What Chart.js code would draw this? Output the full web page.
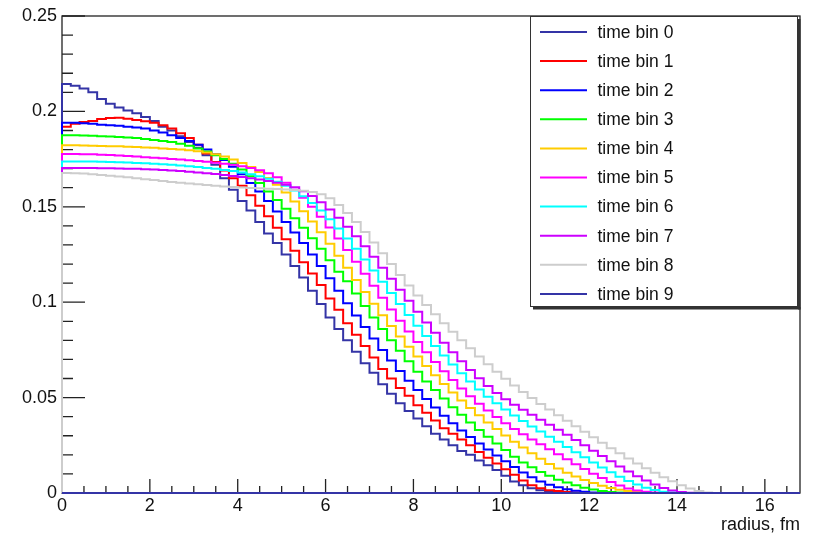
<!DOCTYPE html>
<html>
<head>
<meta charset="utf-8">
<script src="https://cdn.jsdelivr.net/npm/chart.js@4/dist/chart.umd.min.js"></script>
<style>
html,body{margin:0;padding:0;background:#fff;}
#wrap{width:817px;height:534px;position:relative;}
</style>
</head>
<body>
<div id="wrap"><canvas id="c" width="817" height="534"></canvas></div>
<script>
// ---- data ----
const seriesNames = ["time bin 0","time bin 1","time bin 2","time bin 3","time bin 4","time bin 5","time bin 6","time bin 7","time bin 8","time bin 9"];
const seriesColors = ["#3434a6","#ff0000","#0000ff","#00ff00","#ffcc00","#ff00ff","#00ffff","#cc00ff","#cdcdcd","#3434a6"];
// lower edges of the 0.2 fm radius bins
const binLow = [0,0.2,0.4,0.6,0.8,1,1.2,1.4,1.6,1.8,2,2.2,2.4,2.6,2.8,3,3.2,3.4,3.6,3.8,4,4.2,4.4,4.6,4.8,5,5.2,5.4,5.6,5.8,6,6.2,6.4,6.6,6.8,7,7.2,7.4,7.6,7.8,8,8.2,8.4,8.6,8.8,9,9.2,9.4,9.6,9.8,10,10.2,10.4,10.6,10.8,11,11.2,11.4,11.6,11.8,12,12.2,12.4,12.6,12.8,13,13.2,13.4,13.6,13.8,14,14.2,14.4,14.6,14.8,15,15.2,15.4,15.6,15.8,16,16.2,16.4,16.6];
const radiusMax = 16.8;
const bin0 = [0.2144,0.2135,0.212,0.210,0.2065,0.204,0.202,0.2005,0.199,0.197,
0.195,0.192,0.190,0.187,0.184,0.181,0.177,0.172,0.165,0.159,
0.153,0.148,0.142,0.136,0.131,0.125,0.119,0.113,0.106,0.099,
0.092,0.086,0.080,0.074,0.068,0.063,0.057,0.052,0.047,0.043,
0.039,0.035,0.031,0.028,0.025,0.022,0.020,0.017,0.0145,0.012,
0.009,0.006,0.004,0.0025,0.0015,0.001,0.0005,0.0002,
0,0,0,0,0,0,0,0,0,0,0,0,0,0,0,0,0,0,0,0,0,0,0,0,0,0];
const bin1 = [0.192,0.1935,0.1945,0.195,0.196,0.1965,0.1967,0.1962,0.1955,0.1948,
0.194,0.1928,0.191,0.1885,0.186,0.1825,0.178,0.1735,0.169,0.165,
0.161,0.156,0.1505,0.145,0.139,0.133,0.127,0.121,0.115,0.109,
0.102,0.096,0.089,0.083,0.077,0.071,0.065,0.060,0.055,0.051,
0.046,0.042,0.038,0.034,0.031,0.028,0.025,0.0215,0.0185,0.0155,
0.0125,0.0095,0.0065,0.004,0.0025,0.0015,0.001,0.0005,0.0002,
0,0,0,0,0,0,0,0,0,0,0,0,0,0,0,0,0,0,0,0,0,0,0,0,0];
const bin2 = [0.194,0.194,0.1938,0.1935,0.193,0.1928,0.1925,0.192,0.1915,0.191,
0.190,0.189,0.1875,0.186,0.1845,0.1825,0.180,0.1775,0.1745,0.171,
0.167,0.1625,0.158,0.153,0.1475,0.142,0.1365,0.131,0.125,0.119,
0.1125,0.106,0.0995,0.093,0.087,0.081,0.075,0.0695,0.064,0.0588,
0.054,0.0493,0.0448,0.0405,0.0365,0.0328,0.0293,0.026,0.0228,0.0197,
0.0166,0.0136,0.0108,0.0083,0.006,0.0043,0.003,0.002,0.0012,0.0007,
0.0003,
0,0,0,0,0,0,0,0,0,0,0,0,0,0,0,0,0,0,0,0,0,0,0];
const bin3 = [0.1875,0.1875,0.1874,0.1872,0.187,0.1868,0.1866,0.1863,0.186,0.1856,
0.185,0.1845,0.184,0.183,0.182,0.1805,0.179,0.177,0.175,0.1725,
0.1695,0.166,0.1625,0.158,0.1535,0.149,0.144,0.139,0.1335,0.128,
0.122,0.116,0.111,0.1045,0.098,0.092,0.086,0.080,0.0745,0.069,
0.0635,0.0585,0.054,0.0495,0.045,0.041,0.037,0.033,0.0295,0.026,
0.0225,0.019,0.016,0.0135,0.011,0.009,0.007,0.0055,0.004,0.0028,
0.0018,0.001,0.0005,0.0002,
0,0,0,0,0,0,0,0,0,0,0,0,0,0,0,0,0,0,0,0];
const bin4 = [0.1822,0.1822,0.1821,0.182,0.1819,0.1818,0.1817,0.1815,0.1813,0.1811,
0.1809,0.1806,0.1803,0.18,0.1796,0.1791,0.1784,0.1775,0.1763,0.1748,
0.173,0.1708,0.1682,0.1651,0.1615,0.1575,0.1528,0.1477,0.1423,0.1366,
0.1306,0.1244,0.1181,0.1117,0.1054,0.0992,0.0932,0.0875,0.082,0.0767,
0.0715,0.0665,0.0617,0.0571,0.0527,0.0485,0.0445,0.0407,0.037,0.0335,
0.0301,0.0269,0.0238,0.0208,0.0179,0.0152,0.0128,0.0106,0.0086,0.0068,
0.0052,0.0038,0.0026,0.0017,0.001,0.0005,0.0002,
0,0,0,0,0,0,0,0,0,0,0,0,0,0,0,0,0];
const bin5 = [0.1777,0.1777,0.1776,0.1775,0.1773,0.1771,0.1769,0.1766,0.1763,0.176,
0.1757,0.1754,0.1751,0.1748,0.1744,0.174,0.1736,0.1731,0.1726,0.172,
0.1713,0.1703,0.1692,0.1676,0.1655,0.1626,0.159,0.1548,0.15,0.1448,
0.1392,0.1334,0.1274,0.1212,0.1149,0.1086,0.1023,0.0962,0.0903,0.0846,
0.0791,0.0738,0.0687,0.0638,0.0592,0.0548,0.0507,0.0468,0.0432,0.0398,
0.0366,0.0336,0.0308,0.0281,0.0255,0.0229,0.0203,0.0177,0.0151,0.0126,
0.0101,0.0078,0.0057,0.0039,0.0024,0.0013,0.0006,0.0002,
0,0,0,0,0,0,0,0,0,0,0,0,0,0,0,0];
const bin6 = [0.1738,0.1738,0.1737,0.1737,0.1736,0.1735,0.1734,0.1732,0.173,0.1728,
0.1726,0.1723,0.172,0.1717,0.1713,0.1709,0.1704,0.1699,0.1693,0.1687,
0.168,0.1671,0.166,0.1647,0.1631,0.161,0.1585,0.1555,0.152,0.148,
0.1435,0.1386,0.1334,0.128,0.1224,0.1166,0.1107,0.1048,0.099,0.0933,
0.0877,0.0823,0.0771,0.0721,0.0673,0.0627,0.0584,0.0543,0.0505,0.047,
0.0437,0.0406,0.0377,0.0349,0.0322,0.0295,0.0268,0.0241,0.0214,0.0187,
0.016,0.0134,0.0109,0.0085,0.0063,0.0044,0.0028,0.0016,0.0007,0.0002,
0,0,0,0,0,0,0,0,0,0,0,0,0,0];
const bin7 = [0.1703,0.1703,0.1703,0.1703,0.1702,0.1702,0.1701,0.17,0.1699,0.1697,
0.1695,0.1693,0.169,0.1687,0.1684,0.168,0.1676,0.1672,0.1667,0.1662,
0.1656,0.165,0.1643,0.1635,0.1626,0.1616,0.1602,0.1582,0.1556,0.1524,
0.1486,0.1443,0.1396,0.1346,0.1293,0.1238,0.1181,0.1123,0.1065,0.1007,
0.095,0.0894,0.084,0.0788,0.0738,0.069,0.0644,0.0601,0.0561,0.0524,
0.0492,0.0463,0.0436,0.041,0.0384,0.0358,0.0332,0.0305,0.0278,0.025,
0.0222,0.0194,0.0166,0.0139,0.0113,0.0088,0.0065,0.0044,0.0026,0.0013,
0.0005,0.0001,
0,0,0,0,0,0,0,0,0,0,0,0];
const bin8 = [0.1677,0.1676,0.1674,0.1671,0.1667,0.1663,0.1659,0.1655,0.165,0.1645,
0.164,0.1635,0.163,0.1626,0.1622,0.1618,0.1614,0.161,0.1607,0.1604,
0.1601,0.1599,0.1597,0.1595,0.1593,0.1591,0.1588,0.1584,0.1577,0.1566,
0.1545,0.151,0.1468,0.142,0.1368,0.1313,0.1257,0.12,0.1143,0.1088,
0.1035,0.0985,0.0937,0.089,0.0845,0.0801,0.0758,0.0716,0.0675,0.0636,
0.0599,0.0564,0.053,0.0498,0.0467,0.0437,0.0408,0.0379,0.035,0.0321,
0.0292,0.0263,0.0235,0.0208,0.0181,0.0155,0.013,0.0106,0.0083,0.0061,
0.0041,0.0024,0.0011,0.0003,
0,0,0,0,0,0,0,0,0,0];
const bin9 = [0,0,0,0,0,0,0,0,0,0,0,0,0,0,0,0,0,0,0,0,0,0,0,0,0,0,0,0,0,0,0,0,0,0,0,0,0,0,0,0,0,0,0,0,0,0,0,0,0,0,0,0,0,0,0,0,0,0,0,0,0,0,0,0,0,0,0,0,0,0,0,0,0,0,0,0,0,0,0,0,0,0,0,0];
const seriesValues = [bin0,bin1,bin2,bin3,bin4,bin5,bin6,bin7,bin8,bin9];
const xMajorTicks = [0,2,4,6,8,10,12,14,16];
const yMajorTicks = [0,0.05,0.1,0.15,0.2,0.25];
const xTitle = "radius, fm";

// ---- build ----
function histPoints(vals){
  const pts = [{x: binLow[0], y: 0}];
  for (let i = 0; i < vals.length; i++) pts.push({x: binLow[i], y: vals[i]});
  pts.push({x: radiusMax, y: vals[vals.length - 1]});
  return pts;
}
const FONT = "'Liberation Sans', Arial, Helvetica, sans-serif";

const datasets = seriesValues.map((v, i) => ({
  label: seriesNames[i],
  data: histPoints(v),
  borderColor: seriesColors[i],
  backgroundColor: seriesColors[i],
  borderWidth: 2,
  pointRadius: 0,
  stepped: 'before',
  fill: false,
  tension: 0,
  clip: 3,
  order: -i
}));

const framePlugin = {
  id: 'frame',
  beforeDatasetsDraw(chart){
    const {ctx, chartArea: a, scales} = chart;
    const xs = scales.x, ys = scales.y;
    ctx.save();
    ctx.strokeStyle = '#222';
    ctx.lineWidth = 1.3;
    ctx.strokeRect(a.left, a.top, a.right - a.left, a.bottom - a.top);
    ctx.beginPath();
    for (let k = 0; k <= 25; k++) {
      const py = ys.getPixelForValue(k / 100);
      const len = (k % 5 === 0) ? 23 : 11;
      ctx.moveTo(a.left, py); ctx.lineTo(a.left + len, py);
    }
    for (let k = 0; k * 0.5 <= radiusMax + 1e-9; k++) {
      const px = xs.getPixelForValue(k * 0.5);
      const len = (k % 4 === 0) ? 14 : 7;
      ctx.moveTo(px, a.bottom); ctx.lineTo(px, a.bottom - len);
    }
    ctx.stroke();
    ctx.restore();
  }
};

const legendPlugin = {
  id: 'rootLegend',
  afterDraw(chart){
    const {ctx} = chart;
    const L = 530, T = 16, R = 798, B = 307;
    ctx.save();
    ctx.fillStyle = '#fff';
    ctx.fillRect(L, T, R - L, B - T);
    ctx.fillStyle = '#333';
    ctx.fillRect(R, T + 3, 2.5, B - T - 0.5);
    ctx.fillRect(L + 3, B, R - L - 0.5, 2.5);
    ctx.strokeStyle = '#333';
    ctx.lineWidth = 1;
    ctx.strokeRect(L + 0.5, T + 0.5, R - L - 1, B - T - 1);
    ctx.font = '17.5px ' + FONT;
    ctx.textBaseline = 'middle';
    ctx.textAlign = 'left';
    chart.data.datasets.forEach((ds, i) => {
      const y = 32 + i * 29.1;
      ctx.strokeStyle = ds.borderColor;
      ctx.lineWidth = 2;
      ctx.beginPath(); ctx.moveTo(540, y); ctx.lineTo(587, y); ctx.stroke();
      ctx.fillStyle = '#111';
      ctx.fillText(ds.label, 597.5, y + 1);
    });
    ctx.restore();
  }
};

new Chart(document.getElementById('c'), {
  type: 'line',
  data: { datasets },
  options: {
    responsive: false,
    animation: false,
    events: [],
    layout: { padding: { left: 0, top: 16, right: 17, bottom: 0 } },
    plugins: { legend: { display: false }, tooltip: { enabled: false } },
    scales: {
      x: {
        type: 'linear', min: 0, max: radiusMax,
        grid: { display: false, drawTicks: false, tickLength: 0 },
        border: { display: false },
        afterBuildTicks: s => { s.ticks = xMajorTicks.map(v => ({value: v})); },
        ticks: { font: { family: FONT, size: 18 }, color: '#111', padding: 2, maxRotation: 0, autoSkip: false,
                 callback: v => String(v) },
        title: { display: true, text: xTitle, align: 'end', color: '#111',
                 font: { family: FONT, size: 18, lineHeight: 1.0 }, padding: { top: 0, bottom: 0 } },
        afterFit: s => { s.height = 41; }
      },
      y: {
        type: 'linear', min: 0, max: 0.25,
        grid: { display: false, drawTicks: false, tickLength: 0 },
        border: { display: false },
        afterBuildTicks: s => { s.ticks = yMajorTicks.map(v => ({value: v})); },
        ticks: { font: { family: FONT, size: 18 }, color: '#111', padding: 5, autoSkip: false,
                 callback: v => String(+v.toFixed(2)) },
        afterFit: s => { s.width = 62; }
      }
    }
  },
  plugins: [framePlugin, legendPlugin]
});
</script>
</body>
</html>
